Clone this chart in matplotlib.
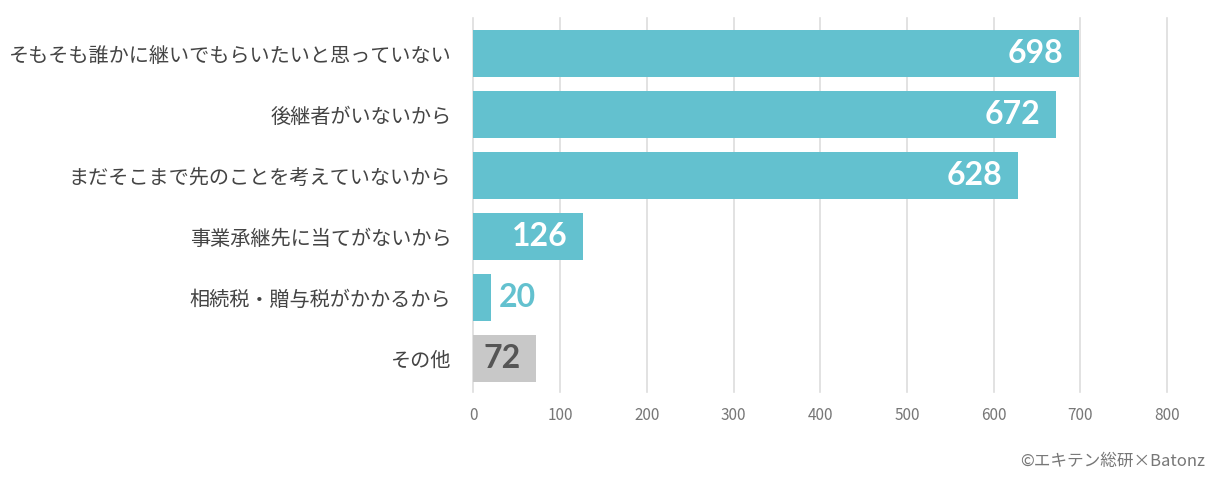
import matplotlib.pyplot as plt

plt.rcParams['font.family'] = ['Noto Sans CJK JP', 'DejaVu Sans']

# Data
categories = ['そもそも誰かに継いでもらいたいと思っていない', '後継者がいないから',
              'まだそこまで先のことを考えていないから', '事業承継先に当てがないから',
              '相続税・贈与税がかかるから', 'その他']
values = [698, 672, 628, 126, 20, 72]
bar_colors = ['#63c1cf', '#63c1cf', '#63c1cf', '#63c1cf', '#63c1cf', '#c8c8c8']
xticks = [0, 100, 200, 300, 400, 500, 600, 700, 800]

fig = plt.figure(figsize=(12.17, 4.82), dpi=100)
ax = fig.add_axes([0.389, 0.187, 0.57, 0.776])

y = list(range(len(categories)))
ax.barh(y, values, height=0.77, color=bar_colors, zorder=2)

# value labels
for i, v in enumerate(values):
    if v < 50:
        ax.annotate(str(v), (v, i), xytext=(6, 0), textcoords='offset points',
                    ha='left', va='center', fontsize=23, color='#63c1cf',
                    family='Lato', fontweight='bold', zorder=3)
    else:
        col = '#555555' if bar_colors[i] == '#c8c8c8' else 'white'
        ax.annotate(str(v), (v, i), xytext=(-11, 0), textcoords='offset points',
                    ha='right', va='center', fontsize=23, color=col,
                    family='Lato', fontweight='bold', zorder=3)

ax.set_ylim(len(categories) - 0.46, -0.59)
ax.set_xlim(0, 800)
ax.set_yticks(y)
ax.set_yticklabels(categories, fontsize=14.5, color='#444444')
ax.set_xticks(xticks)
ax.set_xticklabels([str(t) for t in xticks], fontsize=11, color='#777777')
ax.tick_params(axis='y', length=0, pad=16)
ax.tick_params(axis='x', length=0, pad=11)
for s in ax.spines.values():
    s.set_visible(False)
ax.grid(axis='x', color='#dddddd', linewidth=1.2, zorder=0)
ax.set_axisbelow(True)
for line in ax.get_xgridlines():
    line.set_clip_on(False)

fig.text(0.99, 0.025, '©エキテン総研×Batonz', ha='right', va='bottom',
         fontsize=12, color='#777777')

fig.savefig('out.png', dpi=100)
